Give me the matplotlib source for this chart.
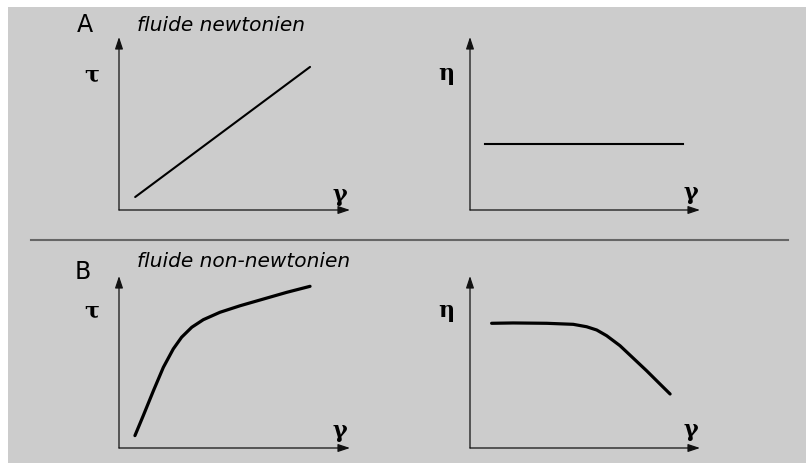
import matplotlib
matplotlib.use("Agg")
import matplotlib.pyplot as plt
from matplotlib.patches import Rectangle
from matplotlib.lines import Line2D

# ---- data (schematic curves, axis units 0..10) ----
newt_tau_gamma = [0.7, 8.27]
newt_tau = [0.75, 8.27]
newt_eta_gamma = [0.65, 9.26]
newt_eta = [3.82, 3.82]

nonnewt_tau_gamma = [0.69, 1.05, 1.49, 1.92, 2.35, 2.71, 3.15, 3.65, 4.37, 5.24, 6.25, 7.26, 8.27]
nonnewt_tau = [0.72, 1.88, 3.33, 4.69, 5.76, 6.44, 7.02, 7.46, 7.89, 8.27, 8.66, 9.05, 9.40]
nonnewt_eta_gamma = [0.94, 1.88, 3.34, 4.49, 5.07, 5.51, 5.94, 6.52, 7.10, 7.68, 8.26, 8.70]
nonnewt_eta = [7.25, 7.27, 7.25, 7.19, 7.05, 6.86, 6.53, 5.95, 5.22, 4.49, 3.72, 3.14]

panel_letters = ["A", "B"]
panel_titles = ["fluide newtonien", "fluide non-newtonien"]
ylabels = ["τ", "η"]
xlabel = "γ"

W, H = 806, 464
fig = plt.figure(figsize=(W / 100, H / 100), dpi=100)
fig.patch.set_facecolor("white")

def fx(px):
    return px / W

def fy(py):
    return 1 - py / H

# grey background panel
fig.patches.append(Rectangle((fx(8), 0), 1 - fx(8), fy(8), transform=fig.transFigure,
                             facecolor="#cccccc", edgecolor="none", zorder=-5))
# divider line
fig.lines.append(Line2D([fx(31), fx(788)], [fy(241), fy(241)], transform=fig.transFigure,
                        color="#666666", lw=1.5, zorder=-4))

def make_axes(x0, y0, x1, y1):
    ax = fig.add_axes([fx(x0), fy(y0), fx(x1) - fx(x0), fy(y1) - fy(y0)])
    ax.set_zorder(2)
    ax.set_xlim(0, 10)
    ax.set_ylim(0, 10)
    ax.axis("off")
    ax.patch.set_alpha(0)
    ap = dict(arrowstyle="-|>,head_length=0.72,head_width=0.24", color="#111111",
              lw=0.9, mutation_scale=10, shrinkA=0, shrinkB=0)
    ax.annotate("", xy=(1, 0), xytext=(0, 0), xycoords="axes fraction",
                textcoords="axes fraction", arrowprops=ap)
    ax.annotate("", xy=(0, 1), xytext=(0, 0), xycoords="axes fraction",
                textcoords="axes fraction", arrowprops=ap)
    return ax

axA1 = make_axes(119, 211, 350, 38)
axA2 = make_axes(470, 211, 700, 38)
axB1 = make_axes(119, 449, 350, 277)
axB2 = make_axes(470, 449, 700, 277)

axA1.plot(newt_tau_gamma, newt_tau, color="black", lw=1.5, solid_capstyle="round")
axA2.plot(newt_eta_gamma, newt_eta, color="black", lw=1.5)
axB1.plot(nonnewt_tau_gamma, nonnewt_tau, color="black", lw=2.3,
          solid_capstyle="round", solid_joinstyle="round")
axB2.plot(nonnewt_eta_gamma, nonnewt_eta, color="black", lw=2.3,
          solid_capstyle="round", solid_joinstyle="round")

greek = dict(family="DejaVu Serif", fontweight="bold", fontsize=16,
             ha="center", va="center", color="black")
# axis symbols
fig.text(fx(92), fy(76), ylabels[0], **greek)
fig.text(fx(340), fy(195), xlabel, **greek)
fig.text(fx(446), fy(74), ylabels[1], **greek)
fig.text(fx(691), fy(193), xlabel, **greek)
fig.text(fx(92), fy(312), ylabels[0], **greek)
fig.text(fx(340), fy(431), xlabel, **greek)
fig.text(fx(446), fy(311), ylabels[1], **greek)
fig.text(fx(691), fy(430), xlabel, **greek)

# panel letters and titles
letter = dict(family="DejaVu Sans", fontsize=17, ha="center", va="center", color="black")
fig.text(fx(85), fy(25), panel_letters[0], **letter)
fig.text(fx(83), fy(272), panel_letters[1], **letter)
title = dict(family="DejaVu Sans", style="italic", fontsize=14.5, ha="left",
             va="baseline", color="black")
fig.text(fx(137), fy(31), panel_titles[0], **title)
fig.text(fx(137), fy(267), panel_titles[1], **title)

fig.savefig("out.png", dpi=100, facecolor=fig.get_facecolor())
